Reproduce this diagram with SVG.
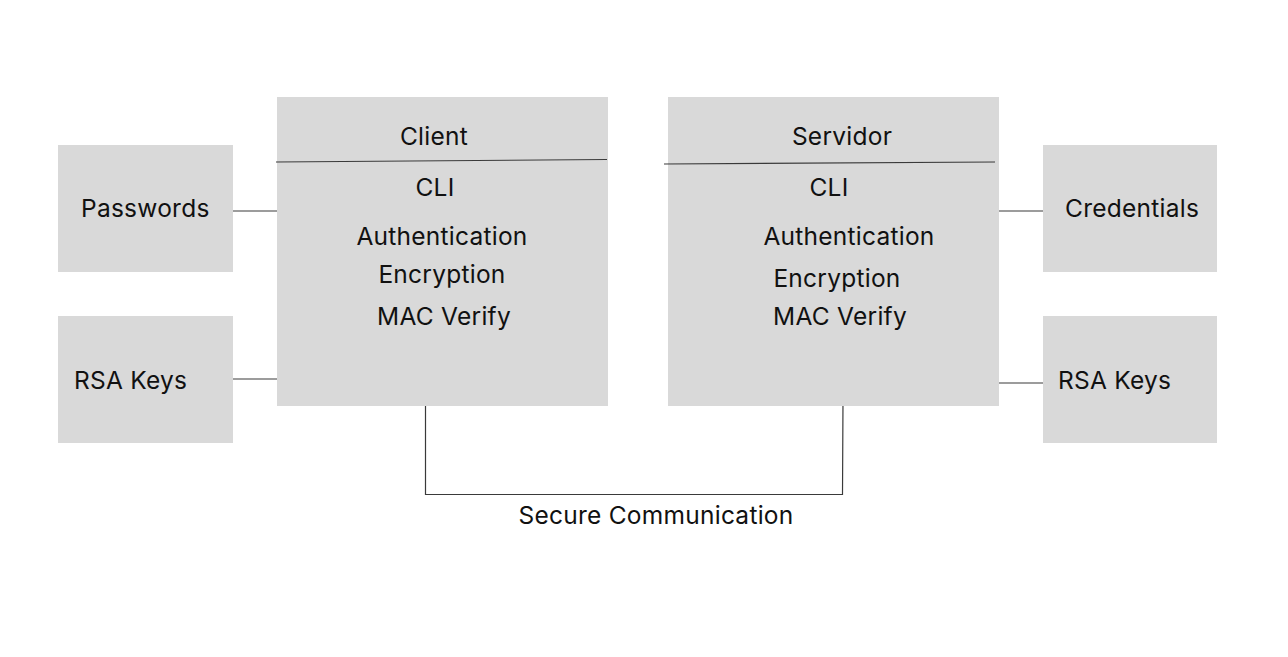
<svg xmlns="http://www.w3.org/2000/svg" width="1288" height="657" viewBox="0 0 1288 657">
<style>
.box{fill:#d9d9d9;}
.ln{stroke:#3a3a3a;stroke-width:1.2;fill:none;}
text{font-family:Inter,"Noto Sans","Liberation Sans",sans-serif;font-size:24.5px;letter-spacing:0.25px;fill:#111;}
.c{text-anchor:middle;}
</style>
<rect width="1288" height="657" fill="#ffffff"/>
<g id="connectors">
<line class="ln" x1="233" y1="211" x2="277" y2="211"/>
<line class="ln" x1="233" y1="379" x2="277" y2="379"/>
<line class="ln" x1="999" y1="211" x2="1043" y2="211"/>
<line class="ln" x1="999" y1="383" x2="1043" y2="383"/>
<polyline class="ln" points="425.5,406 425.5,494.5 842.5,494.5 843,400"/>
<text class="c" x="656" y="524">Secure Communication</text>
</g>
<g id="passwords">
<rect class="box" x="58" y="145" width="175" height="127"/>
<text x="81" y="217">Passwords</text>
</g>
<g id="rsa-left">
<rect class="box" x="58" y="316" width="175" height="127"/>
<text x="74" y="389">RSA Keys</text>
</g>
<g id="client">
<rect class="box" x="277" y="97" width="331" height="309"/>
<line class="ln" x1="276" y1="162" x2="607" y2="159.5"/>
<text class="c" x="434" y="145">Client</text>
<text class="c" x="435" y="196">CLI</text>
<text class="c" x="442" y="245">Authentication</text>
<text class="c" x="442" y="283">Encryption</text>
<text class="c" x="444" y="325">MAC Verify</text>
</g>
<g id="servidor">
<rect class="box" x="668" y="97" width="331" height="309"/>
<line class="ln" x1="664" y1="164" x2="995" y2="162"/>
<text class="c" x="842" y="145">Servidor</text>
<text class="c" x="829" y="196">CLI</text>
<text class="c" x="849" y="245">Authentication</text>
<text class="c" x="837" y="287">Encryption</text>
<text class="c" x="840" y="325">MAC Verify</text>
</g>
<g id="credentials">
<rect class="box" x="1043" y="145" width="174" height="127"/>
<text x="1065" y="217">Credentials</text>
</g>
<g id="rsa-right">
<rect class="box" x="1043" y="316" width="174" height="127"/>
<text x="1058" y="389">RSA Keys</text>
</g>
</svg>
